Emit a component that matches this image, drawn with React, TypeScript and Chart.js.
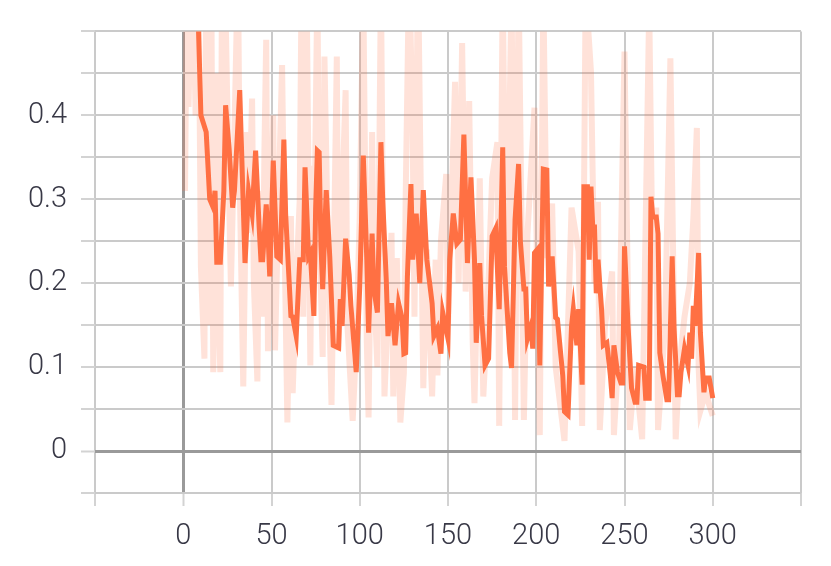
import React, { useEffect, useRef } from "react";
import { Chart, registerables } from "chart.js";

Chart.register(...registerables);

const smoothSteps = [0, 4, 8, 10, 13, 15, 17, 18, 19, 21, 23, 24, 26, 28, 29, 32, 35, 37, 39, 41, 43, 44, 45, 47, 48, 49, 51, 53, 55, 57, 58, 61, 62, 64, 66, 68, 69, 71, 72, 74, 75, 76, 77, 78, 79, 81, 83, 85, 88, 89, 90, 92, 94, 95, 98, 100, 102, 104, 105, 107, 108, 110, 112, 113, 115, 116, 118, 120, 122, 124, 125, 126, 127, 129, 130, 132, 134, 136, 138, 141, 142, 144, 146, 147, 150, 151, 153, 155, 157, 159, 161, 163, 165, 166, 168, 169, 171, 173, 175, 177, 179, 181, 182, 185, 186, 188, 190, 191, 193, 194, 195, 197, 198, 199, 201, 202, 204, 206, 207, 209, 211, 212, 215, 216, 218, 220, 221, 223, 224, 226, 227, 229, 230, 231, 232, 233, 234, 235, 237, 238, 240, 242, 243, 244, 246, 248, 249, 250, 252, 254, 256, 257, 258, 261, 262, 264, 265, 266, 268, 269, 270, 272, 274, 275, 277, 278, 280, 281, 282, 284, 286, 287, 288, 289, 290, 292, 293, 295, 296, 298, 300];
const smoothValues = [0.78, 0.66, 0.55, 0.4, 0.38, 0.3, 0.29, 0.31, 0.225, 0.225, 0.31, 0.412, 0.36, 0.29, 0.31, 0.43, 0.224, 0.31, 0.283, 0.358, 0.267, 0.228, 0.228, 0.294, 0.26, 0.208, 0.346, 0.232, 0.228, 0.371, 0.283, 0.161, 0.16, 0.137, 0.228, 0.228, 0.338, 0.232, 0.236, 0.161, 0.289, 0.358, 0.356, 0.247, 0.193, 0.311, 0.232, 0.126, 0.123, 0.181, 0.149, 0.253, 0.21, 0.173, 0.094, 0.196, 0.352, 0.228, 0.141, 0.259, 0.193, 0.165, 0.368, 0.3, 0.205, 0.137, 0.176, 0.126, 0.176, 0.158, 0.116, 0.117, 0.208, 0.318, 0.228, 0.283, 0.2, 0.311, 0.228, 0.176, 0.137, 0.146, 0.116, 0.165, 0.134, 0.228, 0.283, 0.247, 0.252, 0.377, 0.224, 0.326, 0.228, 0.129, 0.224, 0.161, 0.102, 0.11, 0.256, 0.265, 0.169, 0.362, 0.22, 0.117, 0.099, 0.276, 0.342, 0.25, 0.193, 0.193, 0.134, 0.149, 0.122, 0.236, 0.241, 0.102, 0.336, 0.335, 0.196, 0.232, 0.159, 0.157, 0.09, 0.047, 0.043, 0.149, 0.169, 0.126, 0.169, 0.079, 0.315, 0.315, 0.228, 0.315, 0.267, 0.267, 0.188, 0.228, 0.169, 0.126, 0.129, 0.09, 0.063, 0.126, 0.094, 0.081, 0.081, 0.244, 0.149, 0.075, 0.058, 0.058, 0.102, 0.1, 0.063, 0.063, 0.303, 0.279, 0.279, 0.259, 0.117, 0.087, 0.061, 0.061, 0.232, 0.149, 0.067, 0.067, 0.094, 0.122, 0.102, 0.141, 0.11, 0.173, 0.149, 0.236, 0.141, 0.07, 0.087, 0.087, 0.063];

const rawSteps = [1, 2, 3, 5, 7, 8, 10, 12, 13, 14, 16, 17, 19, 20, 21, 22, 23, 24, 26, 27, 29, 31, 32, 34, 36, 37, 39, 40, 42, 43, 45, 46, 47, 48, 49, 51, 52, 54, 56, 57, 59, 61, 62, 64, 66, 67, 68, 70, 72, 73, 74, 76, 77, 79, 80, 82, 84, 85, 87, 88, 90, 92, 93, 96, 98, 100, 102, 104, 105, 107, 108, 110, 112, 113, 114, 116, 118, 119, 121, 123, 125, 126, 128, 130, 131, 133, 135, 136, 138, 140, 141, 143, 144, 146, 149, 150, 154, 156, 158, 160, 162, 164, 165, 168, 170, 172, 175, 178, 179, 181, 183, 186, 188, 190, 193, 195, 199, 202, 204, 206, 209, 211, 216, 220, 224, 226, 228, 231, 233, 235, 236, 239, 243, 244, 247, 250, 253, 256, 260, 264, 266, 268, 269, 273, 276, 279, 281, 284, 287, 289, 291, 292, 293, 296, 298, 300];
const rawValues = [0.31, 0.55, 0.41, 0.62, 0.4, 0.75, 0.22, 0.11, 0.55, 0.15, 0.52, 0.094, 0.45, 0.17, 0.094, 0.6, 0.35, 0.52, 0.3, 0.196, 0.38, 0.58, 0.32, 0.077, 0.38, 0.26, 0.42, 0.2, 0.083, 0.31, 0.16, 0.36, 0.49, 0.119, 0.21, 0.4, 0.12, 0.3, 0.46, 0.3, 0.034, 0.28, 0.069, 0.2, 0.3, 0.55, 0.16, 0.53, 0.102, 0.34, 0.21, 0.56, 0.27, 0.112, 0.47, 0.24, 0.055, 0.19, 0.47, 0.12, 0.3, 0.43, 0.15, 0.036, 0.13, 0.28, 0.55, 0.13, 0.04, 0.38, 0.2, 0.1, 0.56, 0.3, 0.065, 0.17, 0.26, 0.065, 0.23, 0.034, 0.093, 0.3, 0.58, 0.376, 0.16, 0.58, 0.24, 0.075, 0.24, 0.12, 0.065, 0.228, 0.09, 0.25, 0.33, 0.15, 0.44, 0.2, 0.486, 0.19, 0.417, 0.13, 0.057, 0.325, 0.065, 0.15, 0.325, 0.368, 0.03, 0.56, 0.15, 0.55, 0.037, 0.56, 0.037, 0.258, 0.409, 0.019, 0.55, 0.23, 0.295, 0.1, 0.012, 0.29, 0.238, 0.03, 0.55, 0.452, 0.2, 0.297, 0.025, 0.15, 0.214, 0.019, 0.13, 0.476, 0.025, 0.1, 0.014, 0.53, 0.2, 0.29, 0.025, 0.15, 0.468, 0.014, 0.1, 0.16, 0.2, 0.277, 0.385, 0.1, 0.048, 0.07, 0.055, 0.042];

const xTickMin = -50;
const xTickMax = 350;
const xTickStep = 50;
const yTickMin = -0.05;
const yTickMax = 0.5;
const yTickStep = 0.05;

const LEFT = 95;
const TOP = 28;
const RIGHT = 801;
const BOTTOM = 493;
const W = 831;
const H = 566;

export default function App() {
  const ref = useRef<HTMLCanvasElement | null>(null);
  useEffect(() => {
    document.body.style.margin = "0";
    const canvas = ref.current!;
    const smooth = smoothSteps.map((s, i) => ({ x: s, y: smoothValues[i] }));
    const raw = rawSteps.map((s, i) => ({ x: s, y: rawValues[i] }));
    const gridColor = (ctx: any) =>
      ctx.tick && Math.abs(ctx.tick.value) < 1e-9 ? "#9a9a9a" : "#cacaca";
    const gridWidth = (ctx: any) =>
      ctx.tick && Math.abs(ctx.tick.value) < 1e-9 ? 3 : 2;
    const font = { family: "Roboto, 'Liberation Sans', sans-serif", size: 29, weight: 300 as any };
    const chart = new Chart(canvas, {
      type: "line",
      data: {
        datasets: [
          {
            data: smooth,
            borderColor: "#ff7043",
            borderWidth: 5,
            pointRadius: 0,
            tension: 0,
            clip: 0,
            order: 0,
          },
          {
            data: raw,
            borderColor: "rgba(255,112,67,0.2)",
            borderWidth: 6,
            pointRadius: 0,
            tension: 0,
            clip: 0,
            order: 1,
          },
        ],
      },
      options: {
        animation: false,
        responsive: false,
        maintainAspectRatio: false,
        devicePixelRatio: 1,
        layout: { padding: { left: 0, top: TOP, right: W - RIGHT, bottom: 0 } },
        plugins: { legend: { display: false }, tooltip: { enabled: false } },
        scales: {
          x: {
            type: "linear",
            min: xTickMin,
            max: xTickMax,
            afterFit: (s: any) => {
              s.height = H - BOTTOM;
            },
            ticks: {
              stepSize: xTickStep,
              maxRotation: 0,
              autoSkip: false,
              padding: 13,
              color: "#383846",
              font,
              callback: (v: any) => {
                const n = Number(v);
                if (n < 0 || n > 300) return "";
                return String(n);
              },
            },
            grid: {
              color: gridColor,
              lineWidth: gridWidth,
              tickColor: "#d3d3d3",
              tickWidth: 2,
              tickLength: 13,
            },
            border: { display: false },
          },
          y: {
            type: "linear",
            min: yTickMin,
            max: yTickMax,
            afterFit: (s: any) => {
              s.width = LEFT;
            },
            ticks: {
              stepSize: yTickStep,
              autoSkip: false,
              padding: 14,
              color: "#383846",
              font,
              callback: (v: any) => {
                const n = Number(v);
                const t = n * 10;
                if (n < -1e-9 || n > 0.45) return "";
                if (Math.abs(t - Math.round(t)) > 1e-6) return "";
                if (Math.abs(n) < 1e-9) return "0";
                return n.toFixed(1);
              },
            },
            grid: {
              color: gridColor,
              lineWidth: gridWidth,
              tickColor: "#d3d3d3",
              tickWidth: 2,
              tickLength: 14,
            },
            border: { display: false },
          },
        },
      },
    });
    return () => chart.destroy();
  }, []);
  return (
    <div style={{ position: "absolute", left: 0, top: 0, width: W, height: H, background: "#fff" }}>
      <canvas ref={ref} width={W} height={H} style={{ width: W, height: H, display: "block" }} />
    </div>
  );
}
